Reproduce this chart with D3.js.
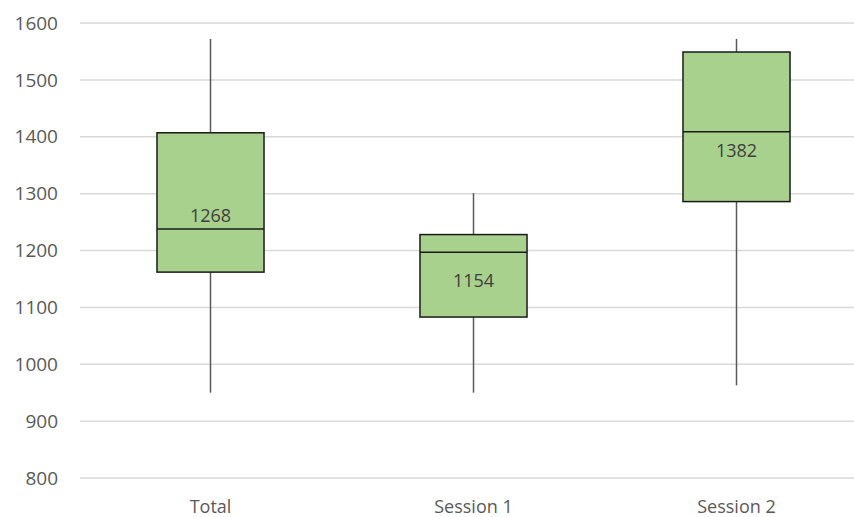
<!DOCTYPE html>
<html>
<head>
<meta charset="utf-8">
<script src="https://cdn.jsdelivr.net/npm/d3@7"></script>
<style>
  body { margin: 0; background: #fff; }
  svg { display: block; font-family: "Open Sans", "Noto Sans", sans-serif; }
</style>
</head>
<body>
<div id="chart"></div>
<script>
// Box-and-whisker values
const categories = ["Total", "Session 1", "Session 2"];
const whiskerLow  = [950, 950, 963];
const quartile1   = [1162, 1083, 1286];
const medians     = [1238, 1197, 1409];
const quartile3   = [1407, 1228, 1549];
const whiskerHigh = [1572, 1301, 1572];
const means       = [1268, 1154, 1382];
const yTicks = [800, 900, 1000, 1100, 1200, 1300, 1400, 1500, 1600];

const width = 854, height = 517;
const margin = { top: 23, right: -14, bottom: 39, left: 79 };

const svg = d3.select("#chart").append("svg")
    .attr("width", width)
    .attr("height", height);

const x = d3.scaleBand()
    .domain(categories)
    .range([margin.left, width - margin.right])
    .paddingInner(0).paddingOuter(0);

const y = d3.scaleLinear()
    .domain([800, 1600])
    .range([height - margin.bottom, margin.top]);

// Gridlines
svg.append("g")
    .selectAll("line")
    .data(yTicks)
    .join("line")
    .attr("x1", margin.left + 1)
    .attr("x2", width)
    .attr("y1", d => y(d))
    .attr("y2", d => y(d))
    .attr("stroke", "#d9d9d9")
    .attr("stroke-width", 1.5);

// Y tick labels
svg.append("g")
    .selectAll("text")
    .data(yTicks)
    .join("text")
    .attr("x", 58)
    .attr("y", d => y(d))
    .attr("dy", "0.35em")
    .attr("text-anchor", "end")
    .attr("fill", "#595959")
    .style("font-size", "19px")
    .text(d => d);

// X category labels
svg.append("g")
    .selectAll("text")
    .data(categories)
    .join("text")
    .attr("x", d => x(d) + x.bandwidth() / 2)
    .attr("y", 513)
    .attr("text-anchor", "middle")
    .attr("fill", "#595959")
    .style("font-size", "18px")
    .text(d => d);

const boxW = x.bandwidth() * 0.407;
const boxes = categories.map((c, i) => ({
    c, lo: whiskerLow[i], q1: quartile1[i], med: medians[i],
    q3: quartile3[i], hi: whiskerHigh[i], mean: means[i]
}));

const g = svg.append("g")
    .selectAll("g")
    .data(boxes)
    .join("g")
    .attr("transform", d => `translate(${x(d.c) + x.bandwidth() / 2},0)`);

// Whiskers
g.append("line")
    .attr("y1", d => y(d.hi)).attr("y2", d => y(d.q3))
    .attr("stroke", "#595959").attr("stroke-width", 1.5);
g.append("line")
    .attr("y1", d => y(d.q1)).attr("y2", d => y(d.lo))
    .attr("stroke", "#595959").attr("stroke-width", 1.5);

// Boxes
g.append("rect")
    .attr("x", -boxW / 2)
    .attr("width", boxW)
    .attr("y", d => y(d.q3))
    .attr("height", d => y(d.q1) - y(d.q3))
    .attr("fill", "#a9d18e")
    .attr("stroke", "#1a1a1a")
    .attr("stroke-width", 1.5);

// Medians
g.append("line")
    .attr("x1", -boxW / 2).attr("x2", boxW / 2)
    .attr("y1", d => y(d.med)).attr("y2", d => y(d.med))
    .attr("stroke", "#1a1a1a").attr("stroke-width", 1.5);

// Mean labels
g.append("text")
    .attr("y", d => y(d.mean) + 4)
    .attr("dy", "0.35em")
    .attr("text-anchor", "middle")
    .attr("fill", "#404040")
    .style("font-size", "18px")
    .text(d => d.mean);
</script>
</body>
</html>
